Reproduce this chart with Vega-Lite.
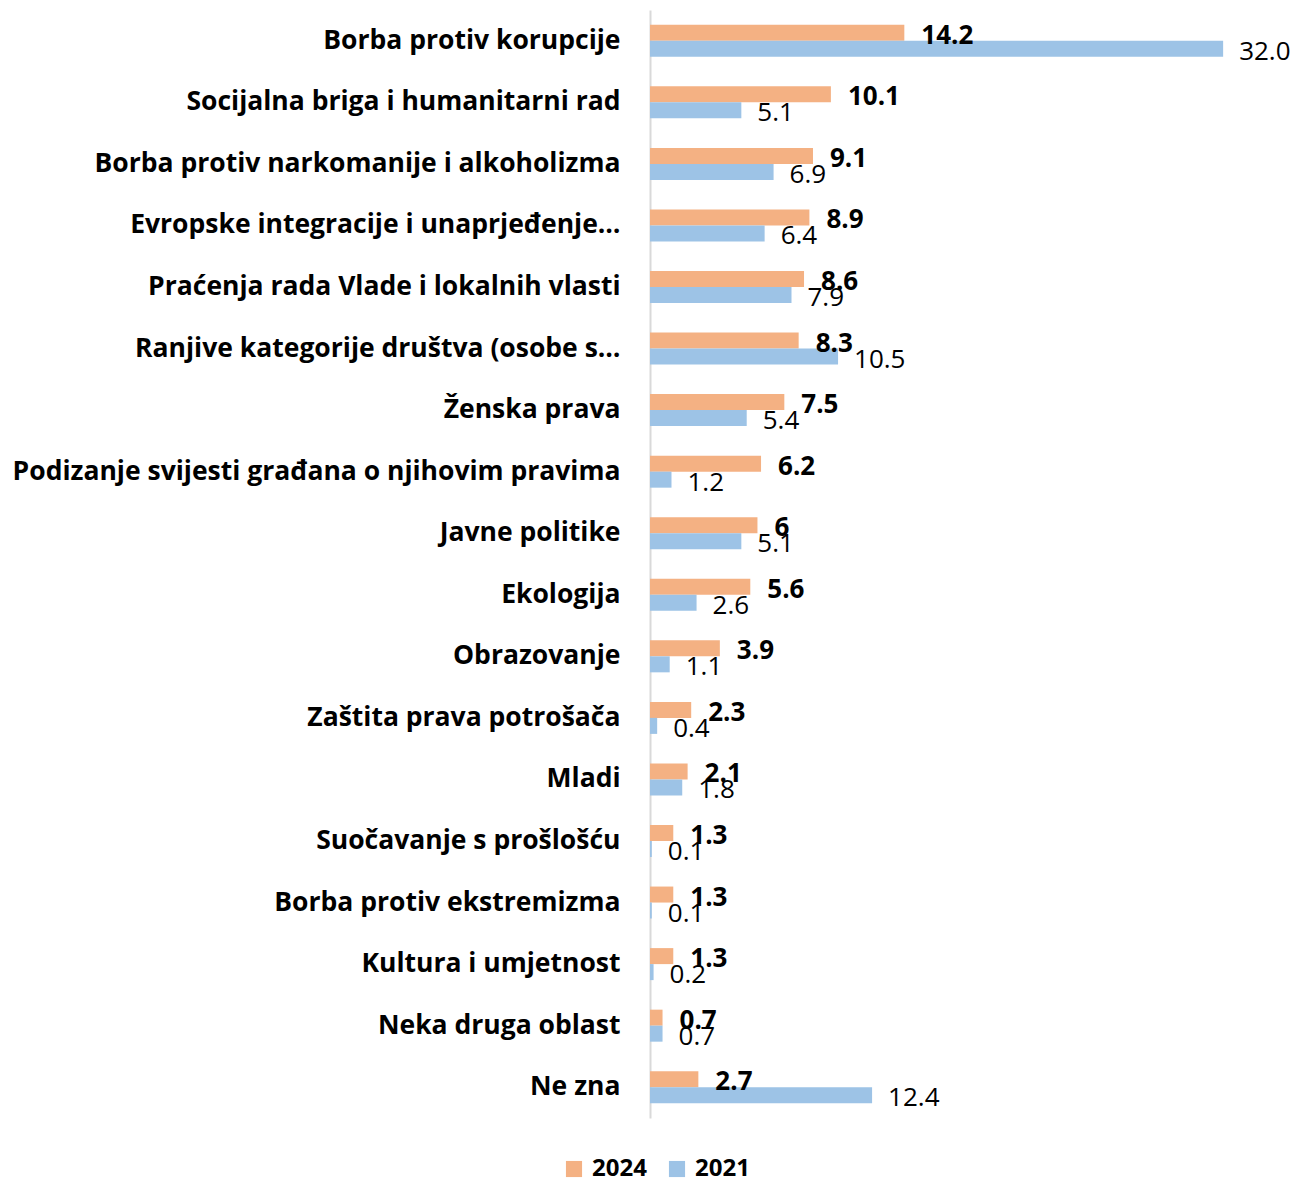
{
  "$schema": "https://vega.github.io/schema/vega-lite/v6.json",
  "width": 600,
  "height": 1108,
  "autosize": {"type": "none"},
  "padding": {"left": 650, "top": 10, "right": 49, "bottom": 65},
  "background": "white",
  "config": {"view": {"stroke": null}, "font": "Open Sans"},
  "data": {
    "values": [
      {"c": "Borba protiv korupcije", "year": "2024", "v": 14.2},
      {"c": "Borba protiv korupcije", "year": "2021", "v": 32.0},
      {"c": "Socijalna briga i humanitarni rad", "year": "2024", "v": 10.1},
      {"c": "Socijalna briga i humanitarni rad", "year": "2021", "v": 5.1},
      {"c": "Borba protiv narkomanije i alkoholizma", "year": "2024", "v": 9.1},
      {"c": "Borba protiv narkomanije i alkoholizma", "year": "2021", "v": 6.9},
      {"c": "Evropske integracije i unaprjeđenje…", "year": "2024", "v": 8.9},
      {"c": "Evropske integracije i unaprjeđenje…", "year": "2021", "v": 6.4},
      {"c": "Praćenja rada Vlade i lokalnih vlasti", "year": "2024", "v": 8.6},
      {"c": "Praćenja rada Vlade i lokalnih vlasti", "year": "2021", "v": 7.9},
      {"c": "Ranjive kategorije društva (osobe s…", "year": "2024", "v": 8.3},
      {"c": "Ranjive kategorije društva (osobe s…", "year": "2021", "v": 10.5},
      {"c": "Ženska prava", "year": "2024", "v": 7.5},
      {"c": "Ženska prava", "year": "2021", "v": 5.4},
      {"c": "Podizanje svijesti građana o njihovim pravima", "year": "2024", "v": 6.2},
      {"c": "Podizanje svijesti građana o njihovim pravima", "year": "2021", "v": 1.2},
      {"c": "Javne politike", "year": "2024", "v": 6},
      {"c": "Javne politike", "year": "2021", "v": 5.1},
      {"c": "Ekologija", "year": "2024", "v": 5.6},
      {"c": "Ekologija", "year": "2021", "v": 2.6},
      {"c": "Obrazovanje", "year": "2024", "v": 3.9},
      {"c": "Obrazovanje", "year": "2021", "v": 1.1},
      {"c": "Zaštita prava potrošača", "year": "2024", "v": 2.3},
      {"c": "Zaštita prava potrošača", "year": "2021", "v": 0.4},
      {"c": "Mladi", "year": "2024", "v": 2.1},
      {"c": "Mladi", "year": "2021", "v": 1.8},
      {"c": "Suočavanje s prošlošću", "year": "2024", "v": 1.3},
      {"c": "Suočavanje s prošlošću", "year": "2021", "v": 0.1},
      {"c": "Borba protiv ekstremizma", "year": "2024", "v": 1.3},
      {"c": "Borba protiv ekstremizma", "year": "2021", "v": 0.1},
      {"c": "Kultura i umjetnost", "year": "2024", "v": 1.3},
      {"c": "Kultura i umjetnost", "year": "2021", "v": 0.2},
      {"c": "Neka druga oblast", "year": "2024", "v": 0.7},
      {"c": "Neka druga oblast", "year": "2021", "v": 0.7},
      {"c": "Ne zna", "year": "2024", "v": 2.7},
      {"c": "Ne zna", "year": "2021", "v": 12.4}
    ]
  },
  "encoding": {
    "y": {
      "field": "c", "type": "nominal", "sort": null, "title": null,
      "scale": {"paddingInner": 0.48, "paddingOuter": 0.24},
      "axis": {
        "ticks": false, "domainColor": "#D9D9D9", "domainWidth": 2,
        "labelFontSize": 26.5, "labelFontWeight": "bold", "labelColor": "#000000",
        "labelPadding": 30, "labelLimit": 700, "labelFont": "Open Sans"
      }
    },
    "yOffset": {"field": "year", "type": "nominal", "sort": ["2024", "2021"]},
    "x": {
      "field": "v", "type": "quantitative", "scale": {"domain": [0, 33.5]},
      "axis": null
    }
  },
  "layer": [
    {
      "mark": {"type": "bar"},
      "encoding": {
        "color": {
          "field": "year", "type": "nominal", "sort": ["2024", "2021"],
          "scale": {"domain": ["2024", "2021"], "range": ["#F4B183", "#9DC3E6"]},
          "legend": {
            "orient": "none", "legendX": -88, "legendY": 1147, "direction": "horizontal",
            "title": null, "symbolType": "square", "symbolSize": 260,
            "symbolStrokeWidth": 0, "labelFontSize": 24, "labelFontWeight": "bold",
            "labelColor": "#000000", "columnPadding": 18, "labelOffset": 6, "labelFont": "Open Sans"
          }
        }
      }
    },
    {
      "transform": [{"filter": "datum.year === '2024'"}],
      "mark": {"type": "text", "align": "left", "baseline": "middle", "dx": 17, "dy": 3, "fontSize": 26, "fontWeight": "bold", "color": "#000000"},
      "encoding": {"text": {"field": "v", "type": "quantitative"}}
    },
    {
      "transform": [{"filter": "datum.year === '2021'"}],
      "mark": {"type": "text", "align": "left", "baseline": "middle", "dx": 16, "dy": 3, "fontSize": 26, "color": "#000000"},
      "encoding": {"text": {"field": "v", "type": "quantitative", "format": ".1f"}}
    }
  ]
}
